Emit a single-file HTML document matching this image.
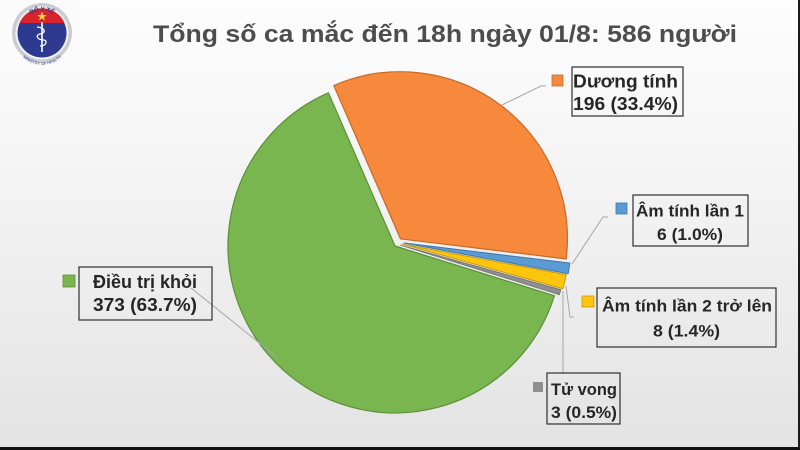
<!DOCTYPE html>
<html>
<head>
<meta charset="utf-8">
<style>
  html,body{margin:0;padding:0;background:#fff;}
  svg{display:block;}
  text{font-family:"Liberation Sans","Noto Sans CJK SC",sans-serif;}
</style>
</head>
<body>
<svg width="800" height="450" viewBox="0 0 800 450" xmlns="http://www.w3.org/2000/svg">
  <defs>
    <linearGradient id="bg" x1="0" y1="0" x2="0" y2="1">
      <stop offset="0" stop-color="#fdfdfd"/>
      <stop offset="0.35" stop-color="#f5f5f5"/>
      <stop offset="1" stop-color="#e3e3e3"/>
    </linearGradient>
    <path id="arcTop" d="M 20 33 A 22 22 0 0 1 64 33"/>
    <path id="arcBot" d="M 15 38 A 27 27 0 0 0 69 38"/>
  </defs>

  <!-- background -->
  <rect x="0" y="0" width="800" height="450" fill="url(#bg)"/>
  <rect x="0" y="0" width="80" height="68" fill="#fbfbfb"/>

  <!-- logo -->
  <circle cx="42" cy="33" r="30" fill="#c9ccd3"/>
  <circle cx="42" cy="33" r="26.5" fill="#f4f4f6"/>
  <circle cx="42" cy="33" r="24.5" fill="#2e3a8f"/>
  <path d="M 19.5 23 A 24.5 24.5 0 0 1 64.5 23 Z" fill="#d9242b"/>
  <polygon points="42,11.5 43.2,15 46.8,15 43.9,17.1 45,20.5 42,18.4 39,20.5 40.1,17.1 37.2,15 40.8,15" fill="#f7d23a"/>
  <line x1="42" y1="22" x2="42" y2="52" stroke="#ffffff" stroke-width="1.6"/>
  <path d="M 37 27 C 46 28, 46 33, 40 34 C 35 35, 37 40, 44 40 C 48 41, 46 46, 40 46" fill="none" stroke="#ffffff" stroke-width="1.3"/>
  <text font-size="6" fill="#2e3a8f" font-weight="bold"><textPath href="#arcTop" startOffset="50%" text-anchor="middle">BỘ Y TẾ</textPath></text>
  <text font-size="4" fill="#2e3a8f"><textPath href="#arcBot" startOffset="50%" text-anchor="middle">MINISTRY OF HEALTH</textPath></text>

  <!-- title -->
  <text x="153" y="42" font-size="24" font-weight="bold" fill="#4d4d4d" textLength="584" lengthAdjust="spacingAndGlyphs">Tổng số ca mắc đến 18h ngày 01/8: 586 người</text>

  <!-- pie slices -->
  <path d="M 395 246 L 554.4 295.8 A 167 167 0 1 1 328.4 92.8 Z" fill="#7ab64f" stroke="#5b8f38" stroke-width="1.2"/>
  <path d="M 400.4 238.8 L 333.8 85.6 A 167 167 0 0 1 566.2 258.9 Z" fill="#f6893c" stroke="#c96a2b" stroke-width="1.2"/>
  <path d="M 404 243 L 569.8 263.1 A 167 167 0 0 1 568.2 273.7 Z" fill="#5b9bd5" stroke="#3f76ab" stroke-width="1"/>
  <path d="M 402 244 L 566.2 274.7 A 167 167 0 0 1 562.9 288.7 Z" fill="#ffc40c" stroke="#c89a10" stroke-width="1"/>
  <path d="M 400 245 L 560.9 289.7 A 167 167 0 0 1 559.4 294.8 Z" fill="#8f8f8f" stroke="#707070" stroke-width="0.8"/>

  <!-- leader lines -->
  <g stroke="#a6a6a6" stroke-width="1" fill="none">
    <polyline points="502,105 541,86 546,86"/>
    <polyline points="572,264 603,217 608,217"/>
    <polyline points="566,286 570,317 574,317"/>
    <polyline points="563,291 563,373"/>
    <polyline points="191,288 278,358"/>
  </g>

  <!-- label boxes -->
  <g fill="none" stroke="#3d3d3d" stroke-width="1.3">
    <rect x="572" y="67" width="111" height="49"/>
    <rect x="633" y="195" width="115" height="51"/>
    <rect x="597" y="288" width="179" height="59"/>
    <rect x="79" y="267" width="133" height="53"/>
    <rect x="547" y="373" width="73" height="51"/>
  </g>

  <!-- legend keys -->
  <rect x="552" y="75" width="11" height="11" fill="#f6893c" stroke="#c96a2b" stroke-width="0.8"/>
  <rect x="616" y="203" width="11" height="11" fill="#5b9bd5" stroke="#3f76ab" stroke-width="0.8"/>
  <rect x="582" y="296" width="12" height="11" fill="#ffc40c" stroke="#c89a10" stroke-width="0.8"/>
  <rect x="63" y="275" width="12" height="12" fill="#7ab64f" stroke="#5b8f38" stroke-width="0.8"/>
  <rect x="533" y="382" width="10" height="10" fill="#8f8f8f"/>

  <!-- label texts -->
  <g font-weight="bold" fill="#262626" font-size="18">
    <text x="573" y="87.5" textLength="105" lengthAdjust="spacingAndGlyphs">Dương tính</text>
    <text x="573" y="110" textLength="105" lengthAdjust="spacingAndGlyphs">196 (33.4%)</text>

    <text x="636" y="216.5" font-size="17" textLength="108" lengthAdjust="spacingAndGlyphs">Âm tính lần 1</text>
    <text x="657" y="240" font-size="17" textLength="66" lengthAdjust="spacingAndGlyphs">6 (1.0%)</text>

    <text x="602" y="311.5" font-size="17" textLength="170" lengthAdjust="spacingAndGlyphs">Âm tính lần 2 trở lên</text>
    <text x="653" y="336.5" font-size="17" textLength="67" lengthAdjust="spacingAndGlyphs">8 (1.4%)</text>

    <text x="93" y="288" font-size="18" textLength="104" lengthAdjust="spacingAndGlyphs">Điều trị khỏi</text>
    <text x="93" y="311" font-size="18" textLength="104" lengthAdjust="spacingAndGlyphs">373 (63.7%)</text>

    <text x="551" y="395" font-size="17" textLength="66" lengthAdjust="spacingAndGlyphs">Tử vong</text>
    <text x="551" y="418" font-size="17" textLength="66" lengthAdjust="spacingAndGlyphs">3 (0.5%)</text>
  </g>

  <!-- frame edges -->
  <rect x="798" y="0" width="2" height="450" fill="#1a1a1a"/>
  <rect x="0" y="447" width="800" height="3" fill="#111111"/>
</svg>
</body>
</html>
